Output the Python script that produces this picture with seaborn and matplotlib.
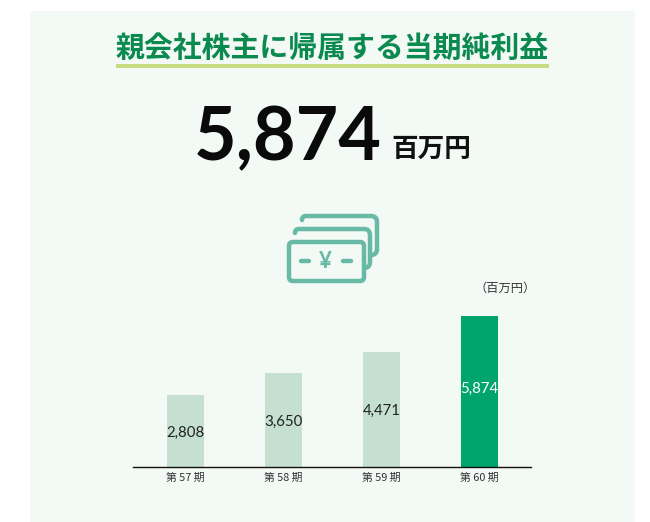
import matplotlib
matplotlib.use("Agg")
import matplotlib.pyplot as plt
import pandas as pd
import seaborn as sns
from matplotlib.patches import FancyBboxPatch, PathPatch, Rectangle
from matplotlib.path import Path

periods = ["第 57 期", "第 58 期", "第 59 期", "第 60 期"]
values = [2808, 3650, 4471, 5874]
bar_colors = ["#c5e0d0", "#c5e0d0", "#c5e0d0", "#00a46d"]
label_colors = ["#222222", "#222222", "#222222", "#ffffff"]
label_shift = [0, 0, 0, 3]
title = "親会社株主に帰属する当期純利益"
headline = "5,874"
unit = "百万円"
axis_unit = "（百万円）"

W, H = 650, 522
JP = ["Noto Sans CJK JP", "DejaVu Sans"]
sns.set_theme(style="white", rc={"font.family": JP})
plt.rcParams["font.family"] = JP

fig = plt.figure(figsize=(W / 100, H / 100), dpi=100, facecolor="white")

# pixel-space canvas for the panel and decorations
bg = fig.add_axes([0, 0, 1, 1], zorder=0)
bg.set_xlim(0, W)
bg.set_ylim(H, 0)
bg.axis("off")
bg.add_patch(Rectangle((30, 11), 605, 511, fc="#f3f9f5", ec="none"))

bg.text(332.5, 47.5, title, fontsize=20.8, fontweight="bold", color="#0b8a50", ha="center", va="center")
bg.add_patch(Rectangle((116, 64), 433, 4, fc="#c6dc80", ec="none"))
bg.text(287.5, 160, headline, fontsize=53, fontweight="bold", family=["Lato", "DejaVu Sans"],
        color="#0a0a0a", ha="center", va="baseline")
bg.text(431, 149.5, unit, fontsize=19.2, fontweight="bold", color="#111111", ha="center", va="center")
bg.text(505.5, 288.5, axis_unit, fontsize=8.8, color="#333333", ha="center", va="center")

# banknote icon
icon = "#68b9a5"
lw = 3.2


def open_note(x0, x1, top, right, bottom, r=6):
    verts = [(x0, top + 4), (x0, top), (x0 + 4, top), (right - r, top), (right, top),
             (right, top + r), (right, bottom - r), (right, bottom), (right - r, bottom), (x1, bottom)]
    codes = [Path.MOVETO, Path.CURVE3, Path.CURVE3, Path.LINETO, Path.CURVE3,
             Path.CURVE3, Path.LINETO, Path.CURVE3, Path.CURVE3, Path.LINETO]
    return PathPatch(Path(verts, codes), fc="none", ec=icon, lw=lw, capstyle="round")


bg.add_patch(open_note(302, 371, 216, 377, 255))
bg.add_patch(open_note(295, 365, 229, 370, 268))
bg.add_patch(FancyBboxPatch((291, 244), 71, 35, boxstyle="round,pad=2,rounding_size=4",
                            fc="none", ec=icon, lw=lw))
for xa, xb in [(301, 309), (343, 351)]:
    bg.plot([xa, xb], [261, 261], color=icon, lw=3.2, solid_capstyle="round")
bg.text(325, 262, "¥", fontsize=16, fontweight="bold", family=["Lato", "DejaVu Sans"],
        color=icon, ha="center", va="center")

# bar chart
left, right, base, top = 133, 531, 467, 300
ax = fig.add_axes([left / W, 1 - base / H, (right - left) / W, (base - top) / H], zorder=1)
ax.patch.set_alpha(0)
df = pd.DataFrame({"period": periods, "value": values})
sns.barplot(data=df, x="period", y="value", hue="period", order=periods, hue_order=periods,
            palette=bar_colors, width=0.378, legend=False, ax=ax, saturation=1,
            edgecolor="none", linewidth=0)
ax.set_xlim(-0.536, 3.526)
ax.set_ylim(0, (base - top) / (151 / 5874))
for c, col, shift in zip(ax.containers, label_colors, label_shift):
    for ann in ax.bar_label(c, fmt="{:,.0f}", label_type="center", color=col, fontsize=10.8,
                            fontweight="normal", family=["Lato", "DejaVu Sans"]):
        ann.set_verticalalignment("center_baseline")
        ann.xyann = (ann.xyann[0], ann.xyann[1] + shift)
ax.set_xlabel("")
ax.set_ylabel("")
ax.set_yticks([])
sns.despine(ax=ax, left=True)
ax.spines["bottom"].set_color("#111111")
ax.spines["bottom"].set_linewidth(1.0)
ax.tick_params(axis="x", length=0, pad=4, labelsize=7.8, labelcolor="#333333")

fig.savefig("out.png", dpi=100)
